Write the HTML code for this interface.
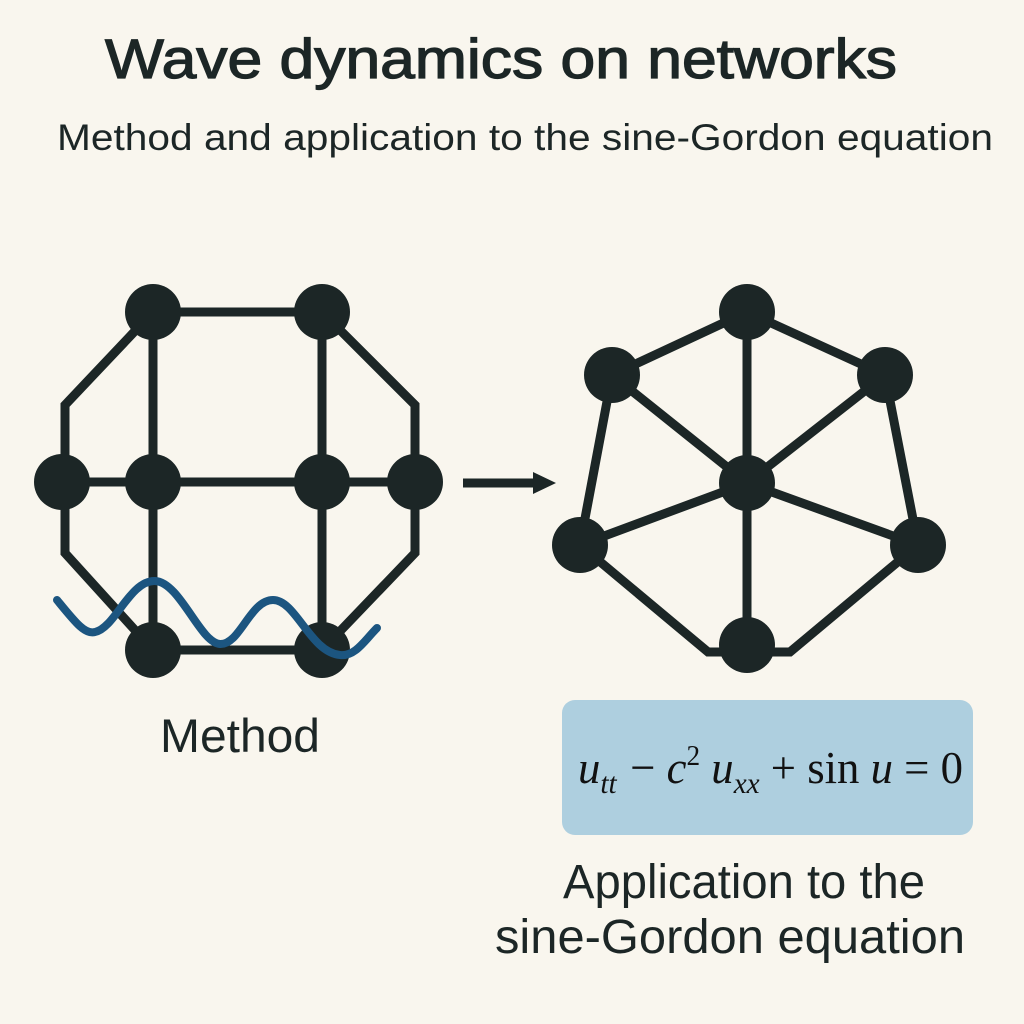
<!DOCTYPE html>
<html><head><meta charset="utf-8"><style>
html,body{margin:0;padding:0;background:#f9f6ee;}
svg{display:block}
</style></head><body>
<svg width="1024" height="1024" viewBox="0 0 1024 1024" xmlns="http://www.w3.org/2000/svg">
<rect width="1024" height="1024" fill="#f9f6ee"/>
<g font-family="Liberation Sans, sans-serif" fill="#1c2626">
<text x="105" y="78" font-size="56" stroke="#1c2626" stroke-width="1.3" textLength="792" lengthAdjust="spacingAndGlyphs">Wave dynamics on networks</text>
<text x="57" y="150" font-size="37" textLength="936" lengthAdjust="spacingAndGlyphs">Method and application to the sine-Gordon equation</text>
<text x="160" y="752" font-size="47" textLength="160" lengthAdjust="spacingAndGlyphs">Method</text>
<text x="563" y="898" font-size="48" textLength="362" lengthAdjust="spacingAndGlyphs">Application to the</text>
<text x="495" y="953" font-size="48" textLength="470" lengthAdjust="spacingAndGlyphs">sine-Gordon equation</text>
</g>
<g stroke="#1c2626" stroke-width="9" fill="none" stroke-linejoin="miter">
<path d="M153 312 H322 M153 312 V650 M322 312 V650 M62 482 H415 M153 650 H322"/>
<path d="M153 312 L65 405 V553 L153 650"/>
<path d="M322 312 L415 405 V553 L322 650"/>
<path d="M463 483 H535"/>
<path d="M747 312 L612 375 L580 545 L708 652 H790 L918 545 L885 375 Z"/>
<path d="M747 312 V645 M612 375 L747 483 L885 375 M580 545 L747 483 L918 545"/>
</g>
<polygon points="533,472 556,483 533,494" fill="#1c2626"/>
<g fill="#1c2626">
<circle cx="153" cy="312" r="28"/><circle cx="322" cy="312" r="28"/>
<circle cx="62" cy="482" r="28"/><circle cx="153" cy="482" r="28"/>
<circle cx="322" cy="482" r="28"/><circle cx="415" cy="482" r="28"/>
<circle cx="153" cy="650" r="28"/><circle cx="322" cy="650" r="28"/>
<circle cx="747" cy="312" r="28"/><circle cx="612" cy="375" r="28"/>
<circle cx="885" cy="375" r="28"/><circle cx="747" cy="483" r="28"/>
<circle cx="580" cy="545" r="28"/><circle cx="918" cy="545" r="28"/>
<circle cx="747" cy="645" r="28"/>
</g>
<path d="M57 600 C75 622 85 635 95 632 C115 628 130 580 155 581 C180 582 200 643 220 644 C240 645 250 600 273 600 C296 600 310 652 340 655 C355 657 365 640 377 628" stroke="#1c5580" stroke-width="8" fill="none" stroke-linecap="round"/>
<rect x="562" y="700" width="411" height="135" rx="13" fill="#aecfdf"/>
<text x="578" y="783" font-family="Liberation Serif, serif" font-size="46" fill="#111" textLength="385" lengthAdjust="spacingAndGlyphs"><tspan font-style="italic">u</tspan><tspan font-style="italic" font-size="30" dy="10">tt</tspan><tspan dy="-10" dx="14">− </tspan><tspan font-style="italic">c</tspan><tspan font-size="28" dy="-18">2</tspan><tspan dy="18" font-style="italic"> u</tspan><tspan font-style="italic" font-size="30" dy="10">xx</tspan><tspan dy="-10"> + sin </tspan><tspan font-style="italic">u</tspan><tspan> = 0</tspan></text>
</svg>
</body></html>
